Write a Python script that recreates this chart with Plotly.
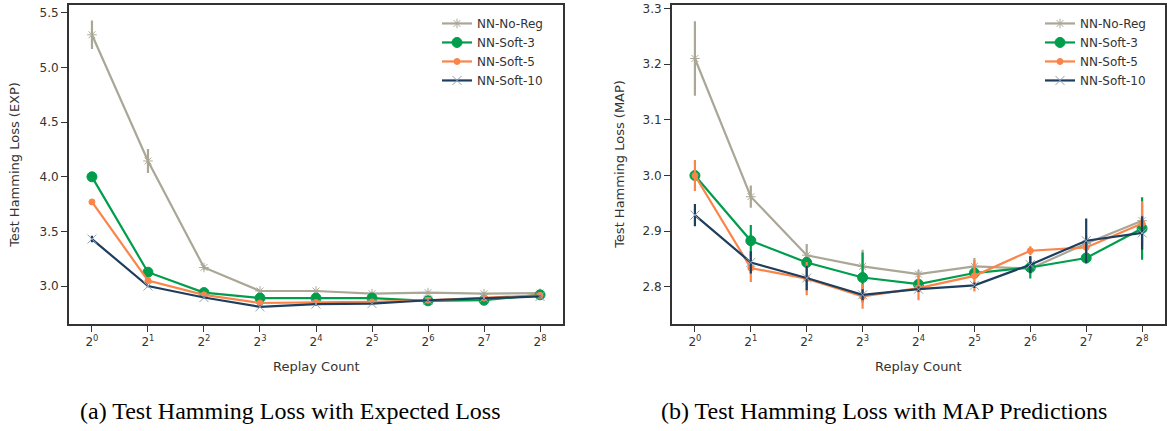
import numpy as np
import plotly.graph_objects as go

replay_counts = [1, 2, 4, 8, 16, 32, 64, 128, 256]
tick_labels = ["2<sup>%d</sup>" % i for i in range(9)]
series_names = ["NN-No-Reg", "NN-Soft-3", "NN-Soft-5", "NN-Soft-10"]

# (a) Expected loss
exp_noreg = [5.30, 4.145, 3.17, 2.955, 2.955, 2.93, 2.94, 2.93, 2.935]
exp_noreg_err = [0.13, 0.11, 0.02, 0.01, 0.01, 0.01, 0.01, 0.01, 0.01]
exp_soft3 = [4.00, 3.127, 2.94, 2.89, 2.89, 2.89, 2.865, 2.87, 2.92]
exp_soft3_err = [0.01, 0.01, 0.01, 0.01, 0.01, 0.01, 0.01, 0.01, 0.01]
exp_soft5 = [3.77, 3.05, 2.92, 2.845, 2.85, 2.855, 2.87, 2.89, 2.915]
exp_soft5_err = [0.01, 0.01, 0.01, 0.01, 0.01, 0.01, 0.01, 0.01, 0.01]
exp_soft10 = [3.43, 3.00, 2.895, 2.81, 2.835, 2.84, 2.87, 2.89, 2.905]
exp_soft10_err = [0.03, 0.01, 0.01, 0.01, 0.01, 0.01, 0.01, 0.01, 0.01]

# (b) MAP predictions
map_noreg = [3.21, 2.962, 2.857, 2.837, 2.823, 2.837, 2.833, 2.878, 2.919]
map_noreg_err = [0.067, 0.02, 0.02, 0.03, 0.008, 0.015, 0.01, 0.01, 0.01]
map_soft3 = [3.00, 2.883, 2.844, 2.817, 2.805, 2.825, 2.835, 2.852, 2.905]
map_soft3_err = [0.005, 0.028, 0.01, 0.045, 0.008, 0.01, 0.02, 0.01, 0.056]
map_soft5 = [3.00, 2.834, 2.815, 2.783, 2.798, 2.82, 2.865, 2.871, 2.914]
map_soft5_err = [0.028, 0.025, 0.03, 0.022, 0.022, 0.028, 0.008, 0.022, 0.04]
map_soft10 = [2.929, 2.844, 2.816, 2.786, 2.796, 2.803, 2.84, 2.883, 2.897]
map_soft10_err = [0.02, 0.02, 0.022, 0.01, 0.005, 0.005, 0.015, 0.04, 0.03]

colors = ["#aba796", "#009e4c", "#fb8448", "#1d3e5d"]
marker_colors = ["#aba796", "#009e4c", "#fb8448", "#8fa3b8"]
symbols = ["asterisk-open", "circle", "circle", "x-thin-open"]
sizes = [8, 10, 6, 9]

exp_data = [(exp_noreg, exp_noreg_err), (exp_soft3, exp_soft3_err),
            (exp_soft5, exp_soft5_err), (exp_soft10, exp_soft10_err)]
map_data = [(map_noreg, map_noreg_err), (map_soft3, map_soft3_err),
            (map_soft5, map_soft5_err), (map_soft10, map_soft10_err)]

fig = go.Figure()

def add_series(data, xa, ya, legend_name):
    for i, (vals, errs) in enumerate(data):
        fig.add_trace(go.Scatter(
            x=replay_counts, y=vals, name=series_names[i], mode="lines+markers",
            line=dict(color=colors[i], width=2.2),
            marker=dict(symbol=symbols[i], size=sizes[i], color=marker_colors[i],
                        line=dict(color=marker_colors[i], width=1)),
            error_y=dict(type="data", array=errs, visible=True, color=colors[i],
                         thickness=2.2, width=0),
            xaxis=xa, yaxis=ya, legend=legend_name,
        ))

add_series(exp_data, "x", "y", "legend")
add_series(map_data, "x2", "y2", "legend2")

axis_common = dict(
    type="log", range=[np.log10(2 ** -0.41), np.log10(2 ** 8.41)],
    tickvals=replay_counts, ticktext=tick_labels,
    showline=True, mirror=True, linecolor="#333333", linewidth=1.8,
    ticks="outside", ticklen=6, tickwidth=1.4, tickcolor="#333333",
    showgrid=False, zeroline=False,
    tickfont=dict(family="DejaVu Sans", size=12, color="#333333"),
)
yaxis_common = dict(
    showline=True, mirror=True, linecolor="#333333", linewidth=1.8,
    ticks="outside", ticklen=6, tickwidth=1.4, tickcolor="#333333",
    showgrid=False, zeroline=False, ticklabeloverflow="allow",
    tickfont=dict(family="DejaVu Sans", size=12, color="#333333"),
)

ydom = [1 - 323 / 431, 1 - 2 / 431]
fig.update_layout(
    width=1167, height=431,
    margin=dict(l=0, r=0, t=0, b=0),
    paper_bgcolor="white", plot_bgcolor="white",
    xaxis=dict(axis_common, domain=[69 / 1167, 563 / 1167], anchor="y"),
    yaxis=dict(yaxis_common, domain=ydom, range=[2.655, 5.573],
               tickvals=[3.0, 3.5, 4.0, 4.5, 5.0, 5.5], ticktext=["3.0", "3.5", "4.0", "4.5", "5.0", "5.5"],
               anchor="x"),
    xaxis2=dict(axis_common, domain=[672 / 1167, 1165 / 1167], anchor="y2"),
    yaxis2=dict(yaxis_common, domain=ydom, range=[2.734, 3.306],
                tickvals=[2.8, 2.9, 3.0, 3.1, 3.2, 3.3], ticktext=["2.8", "2.9", "3.0", "3.1", "3.2", "3.3"],
                anchor="x2"),
    legend=dict(x=548 / 1167, y=1 - 6 / 431, xanchor="right", yanchor="top",
                bgcolor="rgba(255,255,255,0)", font=dict(family="DejaVu Sans", size=12, color="#333333"),
                tracegroupgap=0),
    legend2=dict(x=1151 / 1167, y=1 - 6 / 431, xanchor="right", yanchor="top",
                 bgcolor="rgba(255,255,255,0)", font=dict(family="DejaVu Sans", size=12, color="#333333"),
                 tracegroupgap=0),
    showlegend=True,
)

annots = [
    dict(text="Test Hamming Loss (EXP)", x=15 / 1167, y=1 - 163 / 431, textangle=-90),
    dict(text="Test Hamming Loss (MAP)", x=620 / 1167, y=1 - 163 / 431, textangle=-90),
    dict(text="Replay Count", x=316 / 1167, y=1 - 366 / 431),
    dict(text="Replay Count", x=918 / 1167, y=1 - 366 / 431),
]
for a in annots:
    fig.add_annotation(xref="paper", yref="paper", showarrow=False,
                       xanchor="center", yanchor="middle",
                       font=dict(family="DejaVu Sans", size=13, color="#333333"), **a)

captions = [
    ("(a) Test Hamming Loss with Expected Loss", 290 / 1167),
    ("(b) Test Hamming Loss with MAP Predictions", 884 / 1167),
]
for text, x in captions:
    fig.add_annotation(xref="paper", yref="paper", showarrow=False, text=text,
                       x=x, y=1 - 411 / 431, xanchor="center", yanchor="middle",
                       font=dict(family="Liberation Serif", size=24, color="black"))

fig.write_html("out.html")
